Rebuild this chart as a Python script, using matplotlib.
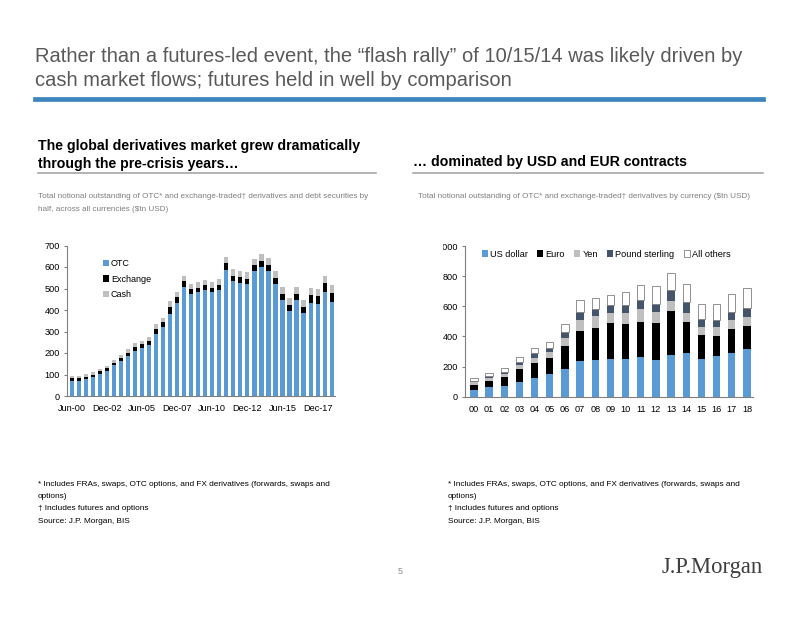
import numpy as np
import matplotlib.pyplot as plt
from matplotlib.transforms import Bbox, TransformedBbox

plt.rcParams['font.family'] = ['Liberation Sans', 'DejaVu Sans']

# left chart: half-yearly, Jun-00 .. Dec-18 ($tn)
periods = ['Jun-00', 'Dec-00', 'Jun-01', 'Dec-01', 'Jun-02', 'Dec-02', 'Jun-03', 'Dec-03',
           'Jun-04', 'Dec-04', 'Jun-05', 'Dec-05', 'Jun-06', 'Dec-06', 'Jun-07', 'Dec-07',
           'Jun-08', 'Dec-08', 'Jun-09', 'Dec-09', 'Jun-10', 'Dec-10', 'Jun-11', 'Dec-11',
           'Jun-12', 'Dec-12', 'Jun-13', 'Dec-13', 'Jun-14', 'Dec-14', 'Jun-15', 'Dec-15',
           'Jun-16', 'Dec-16', 'Jun-17', 'Dec-17', 'Jun-18', 'Dec-18']
otc = [72, 72, 78, 88, 104, 115, 142, 165, 188, 211, 225, 238, 289, 319, 383, 432,
       505, 474, 482, 491, 483, 495, 585, 537, 524, 522, 580, 602, 580, 519, 446, 394,
       446, 387, 434, 430, 482, 435]
exchange = [10, 10, 9, 11, 10, 13, 12, 11, 14, 16, 18, 19, 24, 25, 31, 27,
            28, 25, 21, 24, 20, 23, 34, 20, 28, 24, 27, 26, 28, 30, 30, 31,
            29, 28, 36, 36, 42, 42]
cash = [11, 11, 13, 12, 10, 12, 14, 15, 16, 19, 14, 17, 21, 21, 26, 26,
        27, 23, 25, 24, 25, 28, 26, 33, 28, 31, 31, 32, 34, 31, 31, 32,
        34, 31, 34, 34, 36, 39]
left_ticks = ['Jun-00', 'Dec-02', 'Jun-05', 'Dec-07', 'Jun-10', 'Dec-12', 'Jun-15', 'Dec-17']

# right chart: annual by currency ($tn)
years = ['00', '01', '02', '03', '04', '05', '06', '07', '08', '09',
         '10', '11', '12', '13', '14', '15', '16', '17', '18']
usd = [47, 64, 73, 100, 124, 148, 186, 237, 241, 248, 250, 263, 246, 277, 290, 250, 268, 290, 316]
eur = [33, 42, 58, 81, 102, 111, 148, 201, 213, 239, 230, 235, 245, 289, 203, 159, 137, 159, 155]
jpy = [15, 16, 17, 29, 33, 35, 58, 71, 81, 66, 73, 84, 69, 71, 65, 53, 57, 60, 58]
gbp = [10, 13, 13, 22, 31, 29, 35, 51, 47, 53, 53, 57, 57, 69, 70, 56, 47, 51, 57]
others = [19, 20, 27, 29, 33, 38, 53, 79, 71, 69, 89, 102, 118, 113, 118, 95, 104, 124, 133]

W, H = 802, 620
fig = plt.figure(figsize=(W / 100, H / 100), dpi=100)

def px(x, y):
    return x / W, 1 - y / H

def box(x0, y0, x1, y1):
    return [x0 / W, 1 - y1 / H, (x1 - x0) / W, (y1 - y0) / H]

blue = '#5b9bd5'
grey_txt = '#7f7f7f'

# header
fig.text(*px(35, 57), 'Rather than a futures-led event, the \u201cflash rally\u201d of 10/15/14 was likely driven by',
         fontsize=14.5, color='#595959', va='center')
fig.text(*px(35, 81), 'cash market flows; futures held in well by comparison',
         fontsize=14.5, color='#595959', va='center')
fig.add_artist(plt.Line2D([35 / W, 763 / W], [1 - 98.5 / H] * 2, color='#3d85bd', lw=3.4))

# panel headings
fig.text(*px(38, 146), 'The global derivatives market grew dramatically',
         fontsize=10.15, weight='bold', va='center')
fig.text(*px(38, 164), 'through the pre-crisis years\u2026', fontsize=10.15, weight='bold', va='center')
fig.add_artist(plt.Line2D([38 / W, 376 / W], [1 - 173 / H] * 2, color='#a6a6a6', lw=1.2))
fig.text(*px(413, 162), '\u2026 dominated by USD and EUR contracts', fontsize=10.15, weight='bold', va='center')
fig.add_artist(plt.Line2D([413 / W, 763 / W], [1 - 173 / H] * 2, color='#a6a6a6', lw=1.2))

fig.text(*px(38, 196), 'Total notional outstanding of OTC* and exchange-traded\u2020 derivatives and debt securities by',
         fontsize=5.9, color=grey_txt, va='center')
fig.text(*px(38, 210), 'half, across all currencies ($tn USD)', fontsize=5.9, color=grey_txt, va='center')
fig.text(*px(418, 196), 'Total notional outstanding of OTC* and exchange-traded\u2020 derivatives by currency ($tn USD)',
         fontsize=5.9, color=grey_txt, va='center')

# left chart
ax1 = fig.add_axes(box(67, 245.5, 335, 396))
x = np.arange(len(periods))
bw = 0.6
ax1.bar(x, otc, bw, color=blue, label='OTC')
ax1.bar(x, exchange, bw, bottom=otc, color='black', label='Exchange')
ax1.bar(x, cash, bw, bottom=np.add(otc, exchange), color='#bfbfbf', label='Cash')
ax1.set_xlim(-0.67, len(periods) - 0.53)
ax1.set_ylim(0, 700)
ax1.set_yticks(range(0, 701, 100))
ax1.set_xticks([periods.index(p) for p in left_ticks])
ax1.set_xticklabels(left_ticks)
ax1.legend(loc='upper left', bbox_to_anchor=(0.12, 0.935), frameon=False, fontsize=6.5,
           handlelength=0.65, handleheight=0.65, handletextpad=0.25, labelspacing=0.75,
           borderaxespad=0)

# right chart
ax2 = fig.add_axes(box(465, 246, 753, 396.7))
xr = np.arange(len(years))
bw2 = 0.48
bottom = np.zeros(len(years))
series = [(usd, blue, 'US dollar', 'none'), (eur, 'black', 'Euro', 'none'),
          (jpy, '#bfbfbf', 'Yen', 'none'), (gbp, '#44546a', 'Pound sterling', 'none'),
          (others, 'white', 'All others', '#7f7f7f')]
for vals, col, lab, ec in series:
    ax2.bar(xr, vals, bw2, bottom=bottom, color=col, edgecolor=ec, lw=0.6, label=lab)
    bottom += vals
ax2.set_xlim(-0.59, len(years) - 0.6)
ax2.set_ylim(0, 1000)
ax2.set_yticks(range(0, 1001, 200))
ax2.set_xticks(xr)
ax2.set_xticklabels(years)
ax2.legend(loc='upper center', bbox_to_anchor=(0.49, 1.0), ncol=5, frameon=False, fontsize=6.6,
           handlelength=0.65, handleheight=0.65, handletextpad=0.25, columnspacing=1.0,
           borderaxespad=0)

for ax in (ax1, ax2):
    for s in ('top', 'right'):
        ax.spines[s].set_visible(False)
    ax.spines['left'].set_color('#808080')
    ax.spines['bottom'].set_color('#808080')
    ax.tick_params(axis='x', length=0, labelsize=6.6, pad=6)
    ax.tick_params(axis='y', length=2.5, color='#808080', labelsize=6.6, pad=2.5)

# right chart object is cropped at its left edge ("1000" -> "000")
clip = TransformedBbox(Bbox.from_extents(443.5 / W, 0, 1, 1), fig.transFigure)
for lbl in ax2.get_yticklabels():
    lbl.set_clip_box(clip)
    lbl.set_clip_on(True)

# footnotes
notes = ['* Includes FRAs, swaps, OTC options, and FX derivatives (forwards, swaps and',
         'options)', '\u2020 Includes futures and options', 'Source: J.P. Morgan, BIS']
for i, t in enumerate(notes):
    fig.text(*px(38, 484 + 12.5 * i), t, fontsize=5.95, va='center')
    fig.text(*px(448, 484 + 12.5 * i), t, fontsize=5.95, va='center')

fig.text(*px(400, 572), '5', fontsize=6.5, color='#8c8c8c', ha='center', va='center')
fig.text(*px(763, 568), 'J.P.Morgan', fontsize=16.3, family='Liberation Serif', color='#3f3f3f',
         ha='right', va='center')

fig.savefig('out.png', dpi=100)
